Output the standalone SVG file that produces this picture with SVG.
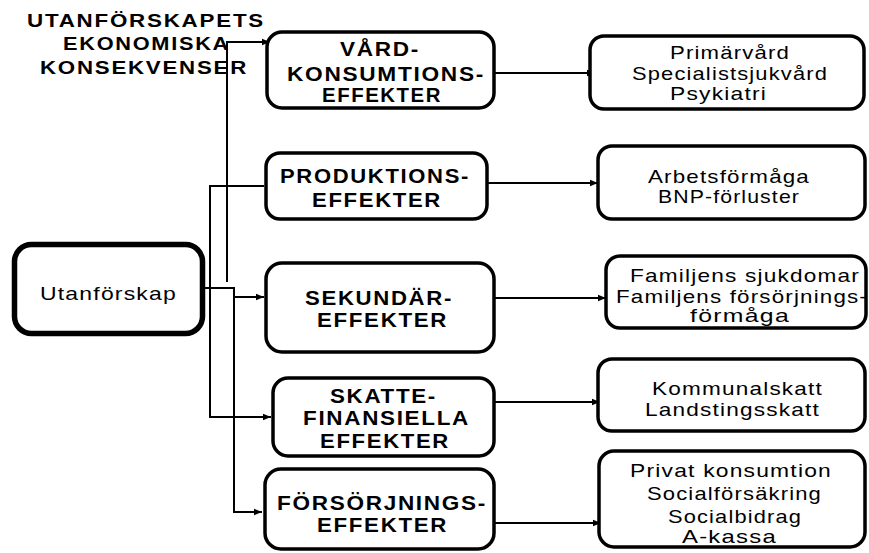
<svg xmlns="http://www.w3.org/2000/svg" width="869" height="553" viewBox="0 0 869 553">
  <style>
    .box { fill: #ffffff; stroke: #000000; stroke-width: 3.5; }
    .main { stroke-width: 5.5; }
    .wire { fill: none; stroke: #000000; stroke-width: 2; }
    text { font-family: "Liberation Sans", Arial, sans-serif; fill: #000000; }
    .head { font-weight: bold; font-size: 20px; letter-spacing: 1.5px; }
    .title { font-weight: bold; font-size: 19px; letter-spacing: 1.5px; }
    .item { font-size: 19px; letter-spacing: 1px; }
  </style>
  <defs>
    <marker id="arrow" viewBox="0 0 8 8" refX="8" refY="4" markerWidth="8" markerHeight="8" markerUnits="userSpaceOnUse" orient="auto">
      <path d="M0,0.8 L8,4 L0,7.2 Z" fill="#000000"/>
    </marker>
  </defs>

  <rect width="869" height="553" fill="#ffffff"/>

  <!-- heading -->
  <g id="title">
    <text class="title" x="27" y="27" textLength="238" lengthAdjust="spacingAndGlyphs">UTANFÖRSKAPETS</text>
    <text class="title" x="63" y="50" textLength="167" lengthAdjust="spacingAndGlyphs">EKONOMISKA</text>
    <text class="title" x="40" y="74" textLength="208" lengthAdjust="spacingAndGlyphs">KONSEKVENSER</text>
  </g>

  <!-- connectors -->
  <g id="connectors">
    <!-- from Utanförskap -->
    <polyline class="wire" points="205,288 234,288 234,512 262,512" marker-end="url(#arrow)"/>
    <line class="wire" x1="234" y1="297" x2="264" y2="297" marker-end="url(#arrow)"/>
    <polyline class="wire" points="264,186 210,186 210,417 271,417" marker-end="url(#arrow)"/>
    <polyline class="wire" points="227,282 227,42 270,42" marker-end="url(#arrow)"/>
    <!-- effects to details -->
    <line class="wire" x1="485" y1="73" x2="595" y2="73" marker-end="url(#arrow)"/>
    <line class="wire" x1="487" y1="183" x2="598" y2="183" marker-end="url(#arrow)"/>
    <line class="wire" x1="495" y1="298" x2="606" y2="298" marker-end="url(#arrow)"/>
    <line class="wire" x1="495" y1="402" x2="600" y2="402" marker-end="url(#arrow)"/>
    <line class="wire" x1="495" y1="523" x2="601" y2="523" marker-end="url(#arrow)"/>
  </g>

  <!-- root -->
  <g id="utanforskap">
    <rect class="box main" x="14.5" y="244.5" width="188" height="89" rx="17"/>
    <text class="item" x="40" y="300" font-size="20" textLength="137" lengthAdjust="spacingAndGlyphs">Utanförskap</text>
  </g>

  <!-- effect categories -->
  <g id="vard">
    <rect class="box" x="267" y="32" width="227" height="76" rx="15"/>
    <text class="head" x="340" y="56" textLength="80" lengthAdjust="spacingAndGlyphs">VÅRD-</text>
    <text class="head" x="287" y="81" textLength="198" lengthAdjust="spacingAndGlyphs">KONSUMTIONS-</text>
    <text class="head" x="322" y="102" textLength="120" lengthAdjust="spacingAndGlyphs">EFFEKTER</text>
  </g>

  <g id="produktion">
    <rect class="box" x="266" y="153" width="221" height="66" rx="14"/>
    <text class="head" x="280" y="183" textLength="190" lengthAdjust="spacingAndGlyphs">PRODUKTIONS-</text>
    <text class="head" x="312" y="207" textLength="130" lengthAdjust="spacingAndGlyphs">EFFEKTER</text>
  </g>

  <g id="sekundar">
    <rect class="box" x="266" y="263" width="228" height="89" rx="16"/>
    <text class="head" x="305" y="305" textLength="148" lengthAdjust="spacingAndGlyphs">SEKUNDÄR-</text>
    <text class="head" x="317" y="327" textLength="131" lengthAdjust="spacingAndGlyphs">EFFEKTER</text>
  </g>

  <g id="skatte">
    <rect class="box" x="273" y="378" width="221" height="78" rx="15"/>
    <text class="head" x="330" y="403" textLength="107" lengthAdjust="spacingAndGlyphs">SKATTE-</text>
    <text class="head" x="303" y="425" textLength="167" lengthAdjust="spacingAndGlyphs">FINANSIELLA</text>
    <text class="head" x="320" y="448" textLength="130" lengthAdjust="spacingAndGlyphs">EFFEKTER</text>
  </g>

  <g id="forsorjning">
    <rect class="box" x="265" y="469" width="229" height="80" rx="16"/>
    <text class="head" x="277" y="510" textLength="210" lengthAdjust="spacingAndGlyphs">FÖRSÖRJNINGS-</text>
    <text class="head" x="317" y="532" textLength="131" lengthAdjust="spacingAndGlyphs">EFFEKTER</text>
  </g>

  <!-- details -->
  <g id="vard-detalj">
    <rect class="box" x="590" y="36" width="274" height="73" rx="14"/>
    <text class="item" x="670" y="59" textLength="120" lengthAdjust="spacingAndGlyphs">Primärvård</text>
    <text class="item" x="632" y="80" textLength="196" lengthAdjust="spacingAndGlyphs">Specialistsjukvård</text>
    <text class="item" x="670" y="100" textLength="97" lengthAdjust="spacingAndGlyphs">Psykiatri</text>
  </g>

  <g id="produktion-detalj">
    <rect class="box" x="598" y="146" width="267" height="73" rx="14"/>
    <text class="item" x="648" y="183" textLength="162" lengthAdjust="spacingAndGlyphs">Arbetsförmåga</text>
    <text class="item" x="658" y="203" textLength="142" lengthAdjust="spacingAndGlyphs">BNP-förluster</text>
  </g>

  <g id="sekundar-detalj">
    <rect class="box" x="606" y="256" width="260" height="72" rx="14"/>
    <text class="item" x="630" y="282" textLength="230" lengthAdjust="spacingAndGlyphs">Familjens sjukdomar</text>
    <text class="item" x="616" y="303" textLength="252" lengthAdjust="spacingAndGlyphs">Familjens försörjnings-</text>
    <text class="item" x="690" y="322" textLength="100" lengthAdjust="spacingAndGlyphs">förmåga</text>
  </g>

  <g id="skatte-detalj">
    <rect class="box" x="598" y="359" width="267" height="72" rx="14"/>
    <text class="item" x="652" y="395" textLength="171" lengthAdjust="spacingAndGlyphs">Kommunalskatt</text>
    <text class="item" x="645" y="416" textLength="175" lengthAdjust="spacingAndGlyphs">Landstingsskatt</text>
  </g>

  <g id="forsorjning-detalj">
    <rect class="box" x="599" y="451" width="266" height="96" rx="15"/>
    <text class="item" x="630" y="477" textLength="202" lengthAdjust="spacingAndGlyphs">Privat konsumtion</text>
    <text class="item" x="647" y="500" textLength="175" lengthAdjust="spacingAndGlyphs">Socialförsäkring</text>
    <text class="item" x="668" y="523" textLength="134" lengthAdjust="spacingAndGlyphs">Socialbidrag</text>
    <text class="item" x="682" y="543" textLength="95" lengthAdjust="spacingAndGlyphs">A-kassa</text>
  </g>
</svg>
